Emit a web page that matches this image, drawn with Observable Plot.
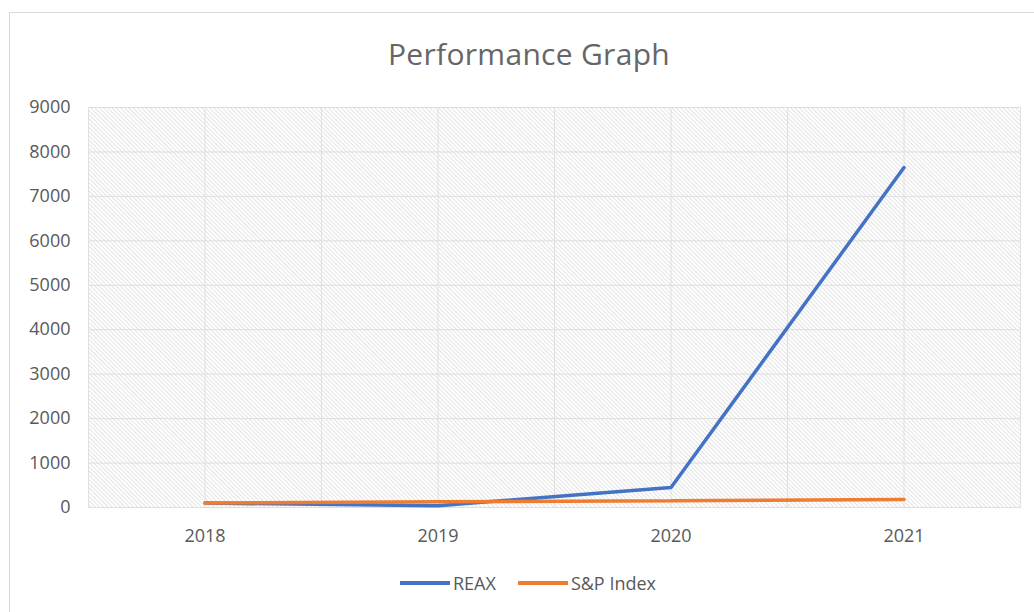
<!DOCTYPE html>
<html><head><meta charset="utf-8">
<script src="https://cdn.jsdelivr.net/npm/d3@7"></script>
<script src="https://cdn.jsdelivr.net/npm/@observablehq/plot@0.6"></script>
<style>
body{margin:0;background:#fff;font-family:"Open Sans",sans-serif;overflow:hidden;}
#frame{position:absolute;left:9px;top:12px;width:1060px;height:640px;border:1px solid #d9d9d9;box-sizing:border-box;}
#title{position:absolute;left:279px;width:500px;top:34px;text-align:center;font-size:30px;color:#666666;line-height:40px;letter-spacing:0.3px;}
#chart{position:absolute;left:0;top:90px;}
#legend{position:absolute;left:400px;top:570px;display:flex;align-items:center;font-size:18px;color:#595959;line-height:26px;}
.sw{display:inline-block;width:50px;height:4px;margin-right:3px;}
.item{display:flex;align-items:center;margin-right:22px;}
</style>
</head><body>
<div id="frame"></div>
<div id="title">Performance Graph</div>
<div id="chart"></div>
<div id="legend"></div>
<script>
const years = [2018, 2019, 2020, 2021];
const seriesNames = ["REAX", "S&P Index"];
const reax = [100, 40, 450, 7650];
const sp = [100, 130, 150, 180];
const seriesColors = ["#4472C4", "#ED7D31"];
const yTicks = [0, 1000, 2000, 3000, 4000, 5000, 6000, 7000, 8000, 9000];

const rows = [];
years.forEach((yr, i) => rows.push({year: yr, value: reax[i], series: seriesNames[0]}));
years.forEach((yr, i) => rows.push({year: yr, value: sp[i], series: seriesNames[1]}));

const xGrid = [years[0] - 0.5];
years.forEach(yr => { xGrid.push(yr); xGrid.push(yr + 0.5); });

const svg = Plot.plot({
  width: 1034, height: 470,
  marginTop: 17, marginBottom: 53, marginLeft: 88, marginRight: 14,
  style: {fontSize: "18px", fontFamily: "Open Sans", color: "#595959", background: "transparent"},
  x: {type: "linear", domain: [years[0] - 0.5, years[years.length - 1] + 0.5], label: null},
  y: {domain: [0, 9000], label: null},
  color: {domain: seriesNames, range: seriesColors},
  marks: [
    Plot.frame({fill: "url(#hatch)", stroke: "#e4e4e4"}),
    Plot.ruleY(yTicks, {stroke: "#dedede", strokeWidth: 1}),
    Plot.ruleX(xGrid, {stroke: "#e0e0e0", strokeWidth: 1}),
    Plot.axisX({ticks: years, tickFormat: "d", tickSize: 0, tickPadding: 22, label: null}),
    Plot.axisY({ticks: yTicks, tickFormat: "d", tickSize: 0, tickPadding: 18, label: null}),
    Plot.line(rows, {x: "year", y: "value", z: "series", stroke: "series", strokeWidth: 3.5, strokeLinejoin: "miter"})
  ]
});

const defs = d3.select(svg).insert("defs", ":first-child");
const pat = defs.append("pattern").attr("id", "hatch").attr("width", 3).attr("height", 3)
  .attr("patternUnits", "userSpaceOnUse").attr("patternTransform", "rotate(-45)");
pat.append("rect").attr("width", 3).attr("height", 3).attr("fill", "#ffffff");
pat.append("rect").attr("width", 1).attr("height", 3).attr("fill", "#e3e3e3");

document.getElementById("chart").appendChild(svg);

const legend = document.getElementById("legend");
seriesNames.forEach((name, i) => {
  const item = document.createElement("div");
  item.className = "item";
  const sw = document.createElement("span");
  sw.className = "sw";
  sw.style.background = seriesColors[i];
  const t = document.createElement("span");
  t.textContent = name;
  item.appendChild(sw); item.appendChild(t);
  legend.appendChild(item);
});
</script>
</body></html>
